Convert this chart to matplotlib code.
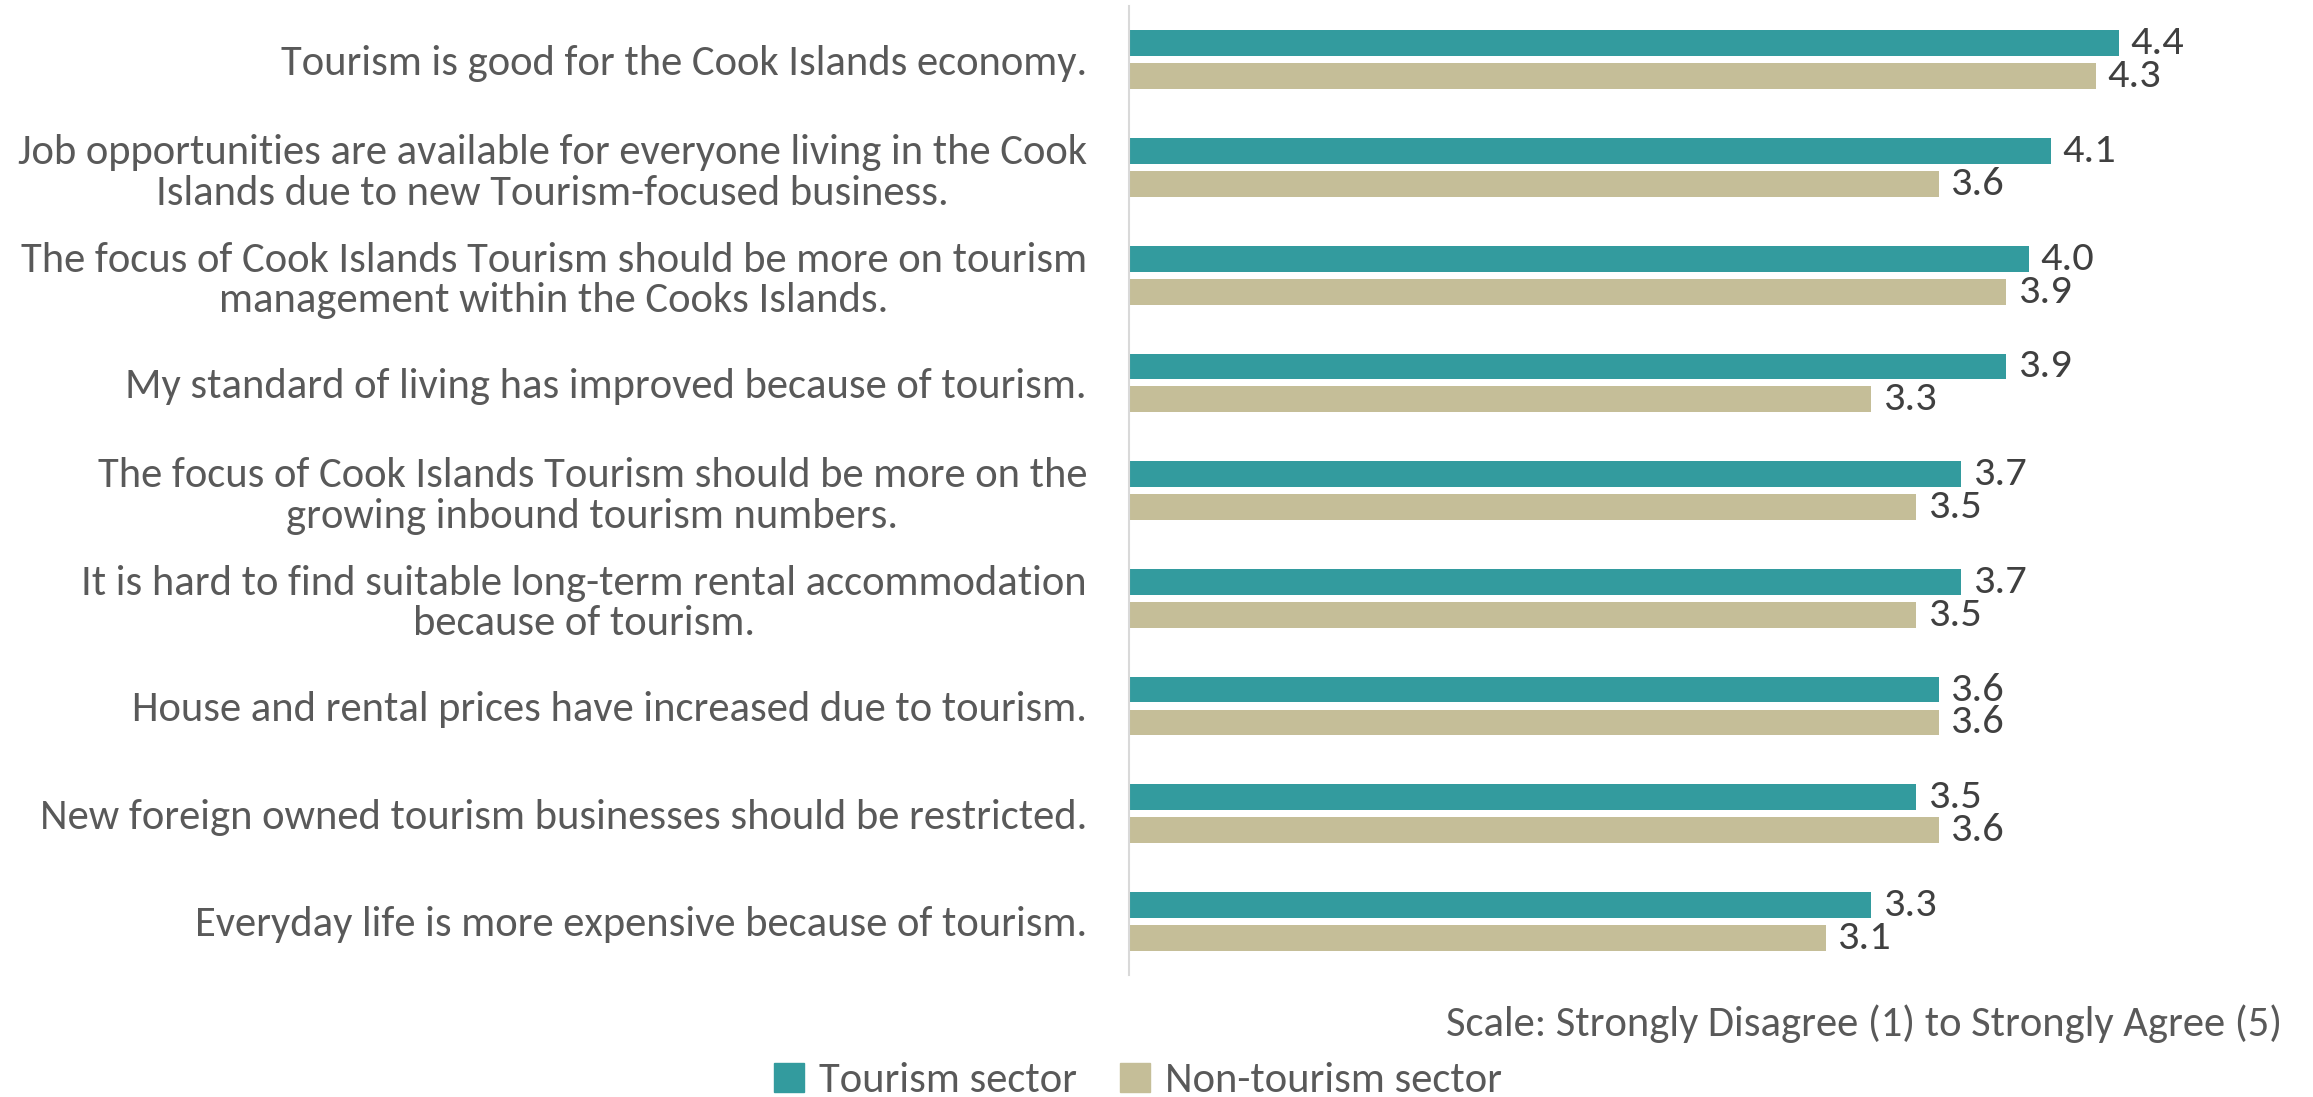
import matplotlib.pyplot as plt
from matplotlib.patches import Patch
import numpy as np

plt.rcParams['font.family'] = ['Carlito', 'Open Sans', 'DejaVu Sans']

statements = [
    "Tourism is good for the Cook Islands economy.",
    "Job opportunities are available for everyone living in the Cook\nIslands due to new Tourism-focused business.",
    "The focus of Cook Islands Tourism should be more on tourism\nmanagement within the Cooks Islands.",
    "My standard of living has improved because of tourism.",
    "The focus of Cook Islands Tourism should be more on the\ngrowing inbound tourism numbers.",
    "It is hard to find suitable long-term rental accommodation\nbecause of tourism.",
    "House and rental prices have increased due to tourism.",
    "New foreign owned tourism businesses should be restricted.",
    "Everyday life is more expensive because of tourism.",
]
tourism_sector = [4.4, 4.1, 4.0, 3.9, 3.7, 3.7, 3.6, 3.5, 3.3]
non_tourism_sector = [4.3, 3.6, 3.9, 3.3, 3.5, 3.5, 3.6, 3.6, 3.1]

TEAL = '#339B9E'
TAN = '#C5BE98'
TEXT = '#595959'
FS = 30.7

fig = plt.figure(figsize=(23.13, 10.97), dpi=100)
ax = fig.add_axes([0.488, 0.111, 0.4865, 0.8835])

y = np.arange(len(statements))
h = 0.24
off = 0.153

b1 = ax.barh(y - off, tourism_sector, height=h, color=TEAL)
b2 = ax.barh(y + off, non_tourism_sector, height=h, color=TAN)
ax.bar_label(b1, fmt='%.1f', padding=8, fontsize=30.5, color='#404040')
ax.bar_label(b2, fmt='%.1f', padding=8, fontsize=30.5, color='#404040')

ax.set_xlim(0, 5)
ax.set_ylim(len(statements) - 0.5, -0.5)
ax.set_yticks(y)
ax.set_yticklabels(statements, fontsize=FS, color=TEXT, multialignment='center',
                   linespacing=1.12)
ax.tick_params(axis='y', length=0, pad=30)
ax.set_xticks([])

for side in ['top', 'right', 'bottom']:
    ax.spines[side].set_visible(False)
ax.spines['left'].set_color('#D9D9D9')
ax.spines['left'].set_linewidth(1.5)

fig.text(0.9866, 0.0665, "Scale: Strongly Disagree (1) to Strongly Agree (5)",
         ha='right', va='center', fontsize=FS, color=TEXT)

handles = [Patch(color=TEAL, label='Tourism sector'),
           Patch(color=TAN, label='Non-tourism sector')]
fig.legend(handles=handles, loc='center', bbox_to_anchor=(0.492, 0.0146), ncol=2,
           frameon=False, fontsize=FS, labelcolor=TEXT, handlelength=0.7,
           handleheight=0.7, handletextpad=0.35, columnspacing=1.0)

fig.savefig('out.png', dpi=100)
